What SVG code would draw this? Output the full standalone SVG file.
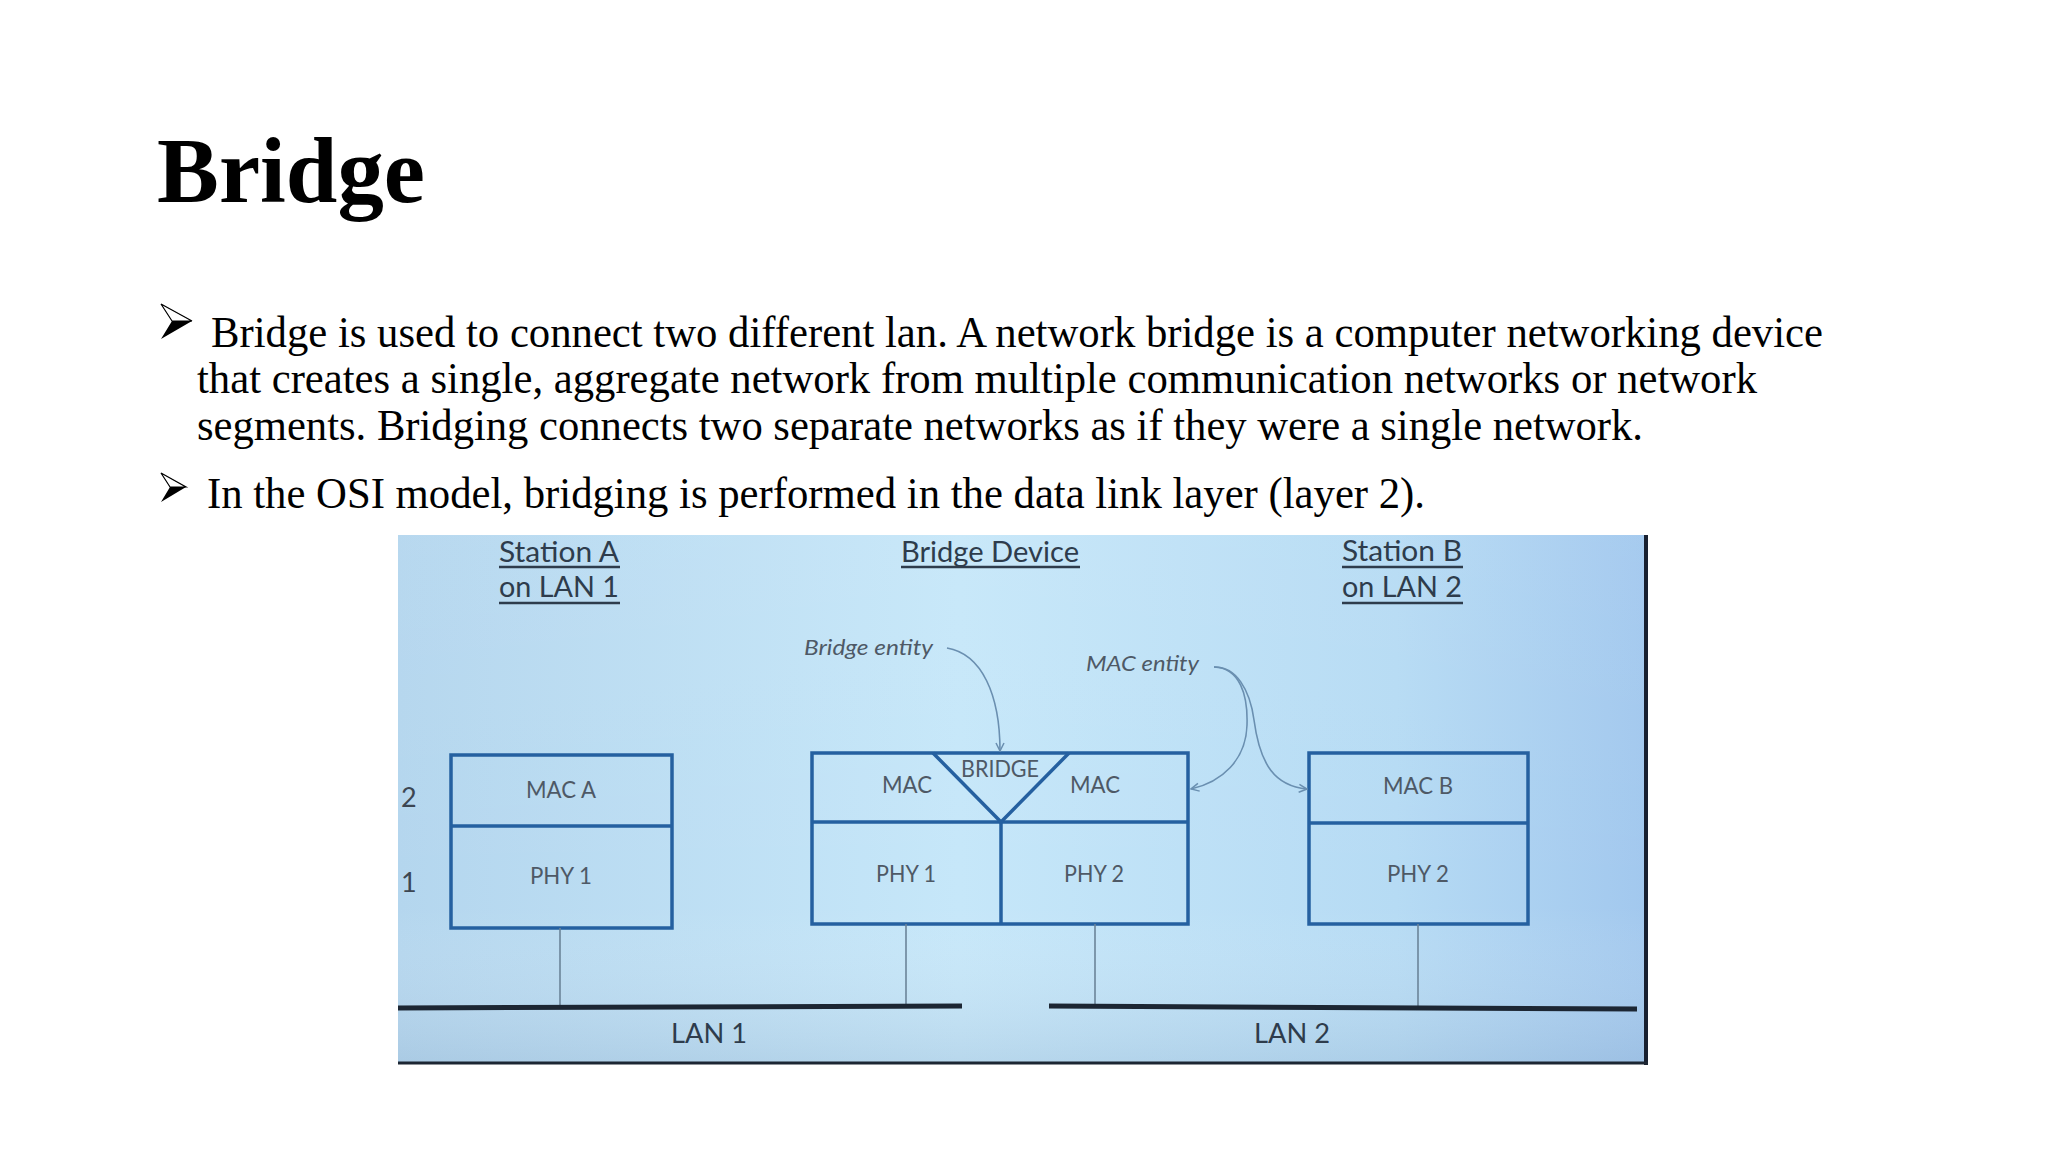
<svg xmlns="http://www.w3.org/2000/svg" width="2048" height="1152" viewBox="0 0 2048 1152">
  <defs>
    <linearGradient id="bgH" x1="0" y1="0" x2="1" y2="0">
      <stop offset="0" stop-color="#b4d6ee"/>
      <stop offset="0.45" stop-color="#c6e7f9"/>
      <stop offset="0.8" stop-color="#b6dbf4"/>
      <stop offset="1" stop-color="#a2c8ee"/>
    </linearGradient>
    <linearGradient id="bgV" x1="0" y1="0" x2="0" y2="1">
      <stop offset="0" stop-color="#ffffff" stop-opacity="0.05"/>
      <stop offset="0.7" stop-color="#ffffff" stop-opacity="0"/>
      <stop offset="1" stop-color="#8aa6c4" stop-opacity="0.25"/>
    </linearGradient>
    <marker id="arr" viewBox="0 0 10 10" refX="9" refY="5" markerWidth="10" markerHeight="10" markerUnits="userSpaceOnUse" orient="auto">
      <path d="M1,1 L9,5 L1,9" fill="none" stroke="#6a8fb0" stroke-width="1.5"/>
    </marker>
    <style>
      .title { font-family: "Liberation Serif", "Times New Roman", serif; font-weight: bold; font-size: 93px; fill: #000; }
      .body { font-family: "Liberation Serif", "Times New Roman", serif; font-size: 44px; fill: #000; }
      .bullet { fill: #000; }
      .hdr { font-family: Lato, "Open Sans", sans-serif; font-size: 28px; fill: #2e3c4c; }
      .ul { stroke: #2e3c4c; stroke-width: 2.5; }
      .lbl { font-family: Lato, "Open Sans", sans-serif; font-size: 23px; fill: #4e5966; text-anchor: middle; }
      .ital { font-family: Lato, "Open Sans", sans-serif; font-style: italic; font-size: 21px; fill: #4e5966; }
      .layer { font-family: Lato, "Open Sans", sans-serif; font-size: 27px; fill: #3c4652; }
      .box { fill: none; stroke: #2560a0; stroke-width: 3.5; }
      .drop { stroke: #6b8499; stroke-width: 1.6; fill: none; }
      .lan { stroke: #1c2633; stroke-width: 5; stroke-linecap: butt; }
      .curve { fill: none; stroke: #6a8fb0; stroke-width: 1.6; marker-end: url(#arr); }
      .lanlbl { font-family: Lato, "Open Sans", sans-serif; font-size: 27px; fill: #2e3c4c; }
    </style>
  </defs>

  <rect x="0" y="0" width="2048" height="1152" fill="#ffffff"/>

  <g id="title">
    <text class="title" x="157" y="202" textLength="268" lengthAdjust="spacingAndGlyphs">Bridge</text>
  </g>

  <g id="bullets">
    <path class="bullet" d="M161,304 L192,321 L161,339 L172,321 Z" fill="#000"/>
    <path d="M161,304 L192,321 L172,321 Z" fill="#ffffff" stroke="#000" stroke-width="1.2"/>
    <text class="body" x="211" y="347" textLength="1612" lengthAdjust="spacingAndGlyphs">Bridge is used to connect two different lan. A network bridge is a computer networking device</text>
    <text class="body" x="197" y="393" textLength="1560" lengthAdjust="spacingAndGlyphs">that creates a single, aggregate network from multiple communication networks or network</text>
    <text class="body" x="197" y="440" textLength="1446" lengthAdjust="spacingAndGlyphs">segments. Bridging connects two separate networks as if they were a single network.</text>
    <path class="bullet" d="M161,473 L186,487 L161,502 L170,487 Z" fill="#000"/>
    <path d="M161,473 L186,487 L170,487 Z" fill="#ffffff" stroke="#000" stroke-width="1.2"/>
    <text class="body" x="207" y="508" textLength="1218" lengthAdjust="spacingAndGlyphs">In the OSI model, bridging is performed in the data link layer (layer 2).</text>
  </g>

  <g id="panel">
    <rect x="398" y="535" width="1248" height="529" fill="url(#bgH)"/>
    <rect x="398" y="535" width="1248" height="529" fill="url(#bgV)"/>
    <line x1="1646" y1="535" x2="1646" y2="1065" stroke="#182030" stroke-width="4"/>
    <line x1="398" y1="1063" x2="1648" y2="1063" stroke="#1c2633" stroke-width="3"/>
  </g>

  <g id="headers">
    <text class="hdr" x="499" y="562" textLength="120" lengthAdjust="spacingAndGlyphs">Station A</text>
    <line class="ul" x1="499" y1="567" x2="620" y2="567"/>
    <text class="hdr" x="499" y="597" textLength="120" lengthAdjust="spacingAndGlyphs">on LAN 1</text>
    <line class="ul" x1="499" y1="603" x2="620" y2="603"/>
    <text class="hdr" x="901" y="562" textLength="178" lengthAdjust="spacingAndGlyphs">Bridge Device</text>
    <line class="ul" x1="901" y1="567" x2="1080" y2="567"/>
    <text class="hdr" x="1342" y="561" textLength="120" lengthAdjust="spacingAndGlyphs">Station B</text>
    <line class="ul" x1="1342" y1="567" x2="1463" y2="567"/>
    <text class="hdr" x="1342" y="597" textLength="120" lengthAdjust="spacingAndGlyphs">on LAN 2</text>
    <line class="ul" x1="1342" y1="603" x2="1463" y2="603"/>
  </g>

  <g id="layers">
    <text class="layer" x="401" y="807">2</text>
    <text class="layer" x="401" y="892">1</text>
  </g>

  <g id="stationA">
    <rect class="box" x="451" y="755" width="221" height="173"/>
    <line class="box" x1="451" y1="826" x2="672" y2="826"/>
    <text class="lbl" x="561" y="798" textLength="70" lengthAdjust="spacingAndGlyphs">MAC A</text>
    <text class="lbl" x="561" y="884" textLength="62" lengthAdjust="spacingAndGlyphs">PHY 1</text>
  </g>

  <g id="bridgeDevice">
    <rect class="box" x="812" y="753" width="376" height="171"/>
    <line class="box" x1="812" y1="822" x2="1188" y2="822"/>
    <line class="box" x1="1001" y1="822" x2="1001" y2="924"/>
    <polyline class="box" points="933,753 1001,822 1069,753"/>
    <text class="lbl" x="1000" y="777" textLength="78" lengthAdjust="spacingAndGlyphs">BRIDGE</text>
    <text class="lbl" x="907" y="793" textLength="50" lengthAdjust="spacingAndGlyphs">MAC</text>
    <text class="lbl" x="1095" y="793" textLength="50" lengthAdjust="spacingAndGlyphs">MAC</text>
    <text class="lbl" x="906" y="882" textLength="60" lengthAdjust="spacingAndGlyphs">PHY 1</text>
    <text class="lbl" x="1094" y="882" textLength="60" lengthAdjust="spacingAndGlyphs">PHY 2</text>
  </g>

  <g id="stationB">
    <rect class="box" x="1309" y="753" width="219" height="171"/>
    <line class="box" x1="1309" y1="823" x2="1528" y2="823"/>
    <text class="lbl" x="1418" y="794" textLength="70" lengthAdjust="spacingAndGlyphs">MAC B</text>
    <text class="lbl" x="1418" y="882" textLength="62" lengthAdjust="spacingAndGlyphs">PHY 2</text>
  </g>

  <g id="annotations">
    <text class="ital" x="804" y="655" textLength="129" lengthAdjust="spacingAndGlyphs">Bridge entity</text>
    <text class="ital" x="1086" y="671" textLength="113" lengthAdjust="spacingAndGlyphs">MAC entity</text>
  </g>

  <g id="connectors">
    <path class="curve" d="M947,648 C982,654 1000,695 1000,751"/>
    <path class="curve" d="M1214,667 C1240,668 1248,695 1247,725 C1246,760 1222,782 1191,789"/>
    <path class="curve" d="M1214,667 C1236,666 1250,690 1254,720 C1260,765 1275,786 1307,789"/>
    <line class="drop" x1="560" y1="928" x2="560" y2="1007"/>
    <line class="drop" x1="906" y1="924" x2="906" y2="1007"/>
    <line class="drop" x1="1095" y1="924" x2="1095" y2="1007"/>
    <line class="drop" x1="1418" y1="924" x2="1418" y2="1007"/>
    <line class="lan" x1="398" y1="1008" x2="962" y2="1006"/>
    <line class="lan" x1="1049" y1="1006" x2="1637" y2="1009"/>
  </g>

  <g id="lanLabels">
    <text class="lanlbl" x="671" y="1043" textLength="76" lengthAdjust="spacingAndGlyphs">LAN 1</text>
    <text class="lanlbl" x="1254" y="1043" textLength="76" lengthAdjust="spacingAndGlyphs">LAN 2</text>
  </g>
</svg>
